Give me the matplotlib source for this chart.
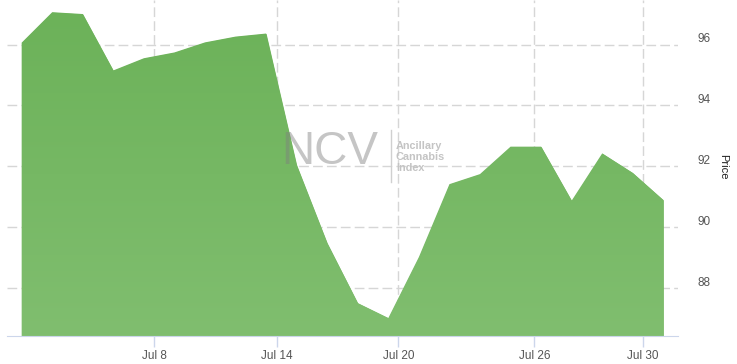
import matplotlib.pyplot as plt
import numpy as np
from matplotlib.transforms import ScaledTranslation

# daily index values (trading days)
price = [96.06, 97.06, 97.00, 95.15, 95.55, 95.74, 96.07, 96.26, 96.36, 92.05, 89.49,
         87.52, 87.03, 89.03, 91.42, 91.75, 92.65, 92.65, 90.88, 92.43, 91.79, 90.90]
day_idx = np.arange(len(price))

# date ticks sit between trading days on the ordinal axis
tick_labels = ['Jul 8', 'Jul 14', 'Jul 20', 'Jul 26', 'Jul 30']
tick_pos = [4.34, 8.35, 12.33, 16.78, 20.32]
y_ticks = [88, 90, 92, 94, 96]

plt.rcParams['font.family'] = ['Liberation Sans', 'DejaVu Sans']

fig = plt.figure(figsize=(7.37, 3.64), dpi=100)
ax = fig.add_axes([7 / 737, 28 / 364, 671 / 737, 336 / 364])

ymin, ymax = 86.44, 97.46
ax.set_xlim(-0.48, 21.48)
ax.set_ylim(ymin, ymax)

# area with slight vertical gradient
poly = ax.fill_between(day_idx, price, ymin, color='#74b661', lw=0, zorder=2)
grad = np.linspace(0, 1, 256).reshape(-1, 1)
top = np.array([108, 178, 89]) / 255
bot = np.array([128, 190, 111]) / 255
img = top + (bot - top) * grad[..., None]
im = ax.imshow(img, extent=[-0.48, 21.48, ymin, max(price)], aspect='auto', zorder=3,
               origin='upper')
im.set_clip_path(poly.get_paths()[0], transform=ax.transData)

# grid
for x in tick_pos:
    ax.axvline(x, color='#d6d6d6', lw=1, dashes=(7, 3), zorder=1)
for y in y_ticks:
    ax.axhline(y, color='#d6d6d6', lw=1, dashes=(7, 3), zorder=1)

for s in ['top', 'left', 'right']:
    ax.spines[s].set_visible(False)
ax.spines['bottom'].set_color('#ccd6eb')
ax.spines['bottom'].set_zorder(5)

ax.set_xticks(tick_pos)
ax.set_xticklabels(tick_labels)
ax.tick_params(axis='x', length=8, width=1, color='#ccd6eb', labelsize=8.5,
               labelcolor='#555555', pad=2)

ax.yaxis.tick_right()
ax.set_yticks(y_ticks)
ax.set_yticklabels([str(v) for v in y_ticks])
ax.tick_params(axis='y', length=0, labelsize=8.5, labelcolor='#555555', pad=14)
for lbl in ax.get_yticklabels():
    lbl.set_transform(lbl.get_transform() + ScaledTranslation(0, 7 / 100, fig.dpi_scale_trans))

fig.text(723 / 737, 1 - 167 / 364, 'Price', rotation=270, ha='center', va='center',
         fontsize=8, color='#222222')

# watermark
ax.text((330 - 7) / 671, 1 - 152 / 336, 'NCV', transform=ax.transAxes, fontsize=33,
        color='#7f7f7f', alpha=0.45, ha='center', va='center', zorder=6)
ax.plot([(390.7 - 7) / 671] * 2, [1 - 130 / 336, 1 - 182 / 336], transform=ax.transAxes,
        color='#d0d0d0', lw=1, zorder=6)
ax.text((396 - 7) / 671, 1 - 157 / 336, 'Ancillary\nCannabis\nIndex', transform=ax.transAxes,
        fontsize=7.8, color='#c4c4c4', ha='left', va='center', fontweight='bold',
        linespacing=1.15, zorder=6)

fig.savefig('out.png', dpi=100)
